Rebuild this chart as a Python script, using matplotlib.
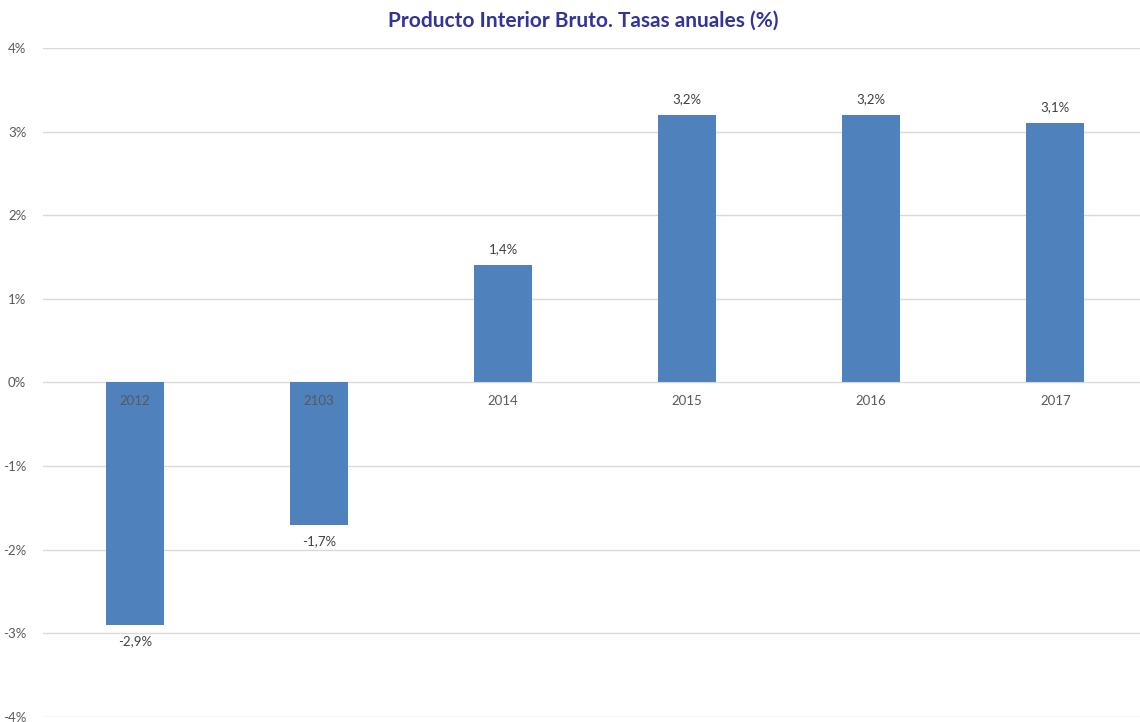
import matplotlib.pyplot as plt
from matplotlib.ticker import FuncFormatter

years = ["2012", "2103", "2014", "2015", "2016", "2017"]
pib_growth = [-2.9, -1.7, 1.4, 3.2, 3.2, 3.1]
y_ticks = [-4, -3, -2, -1, 0, 1, 2, 3, 4]

plt.rcParams["font.family"] = ["Lato", "DejaVu Sans"]

fig = plt.figure(figsize=(11.4, 7.22), dpi=100)
W, H = 1140, 722
ax = fig.add_axes([43 / W, 5 / H, (1140 - 43) / W, 669 / H])

x = range(len(years))
ax.bar(x, pib_growth, width=0.315, color="#4F81BD", zorder=3)

ax.set_xlim(-0.5, 5.46)
ax.set_ylim(-4, 4)
ax.set_yticks(y_ticks)
ax.yaxis.set_major_formatter(FuncFormatter(lambda v, _: f"{v:.0f}%"))
ax.tick_params(axis="y", length=0, pad=12, labelsize=9.5, labelcolor="#595959")
ax.set_xticks([])
ax.grid(axis="y", color="#D9D9D9", linewidth=1, zorder=0)
for s in ax.spines.values():
    s.set_visible(False)

# year labels sit just under the zero line, over the bars
for i, year in enumerate(years):
    ax.annotate(year, (i, 0), xytext=(0, -19), textcoords="offset pixels",
                ha="center", va="center", fontsize=9.5, color="#595959", zorder=4)

# value labels above / below each bar
for i, v in enumerate(pib_growth):
    off = 16 if v > 0 else -16
    label = f"{v:.1f}%".replace(".", ",")
    ax.annotate(label, (i, v), xytext=(0, off), textcoords="offset pixels",
                ha="center", va="center", fontsize=9.5, color="#404040", zorder=4)

fig.text(583 / W, 1 - 21 / H, "Producto Interior Bruto. Tasas anuales (%)",
         ha="center", va="center", fontsize=15, fontweight="bold", color="#333399")

fig.savefig("out.png", dpi=100, facecolor="white")
